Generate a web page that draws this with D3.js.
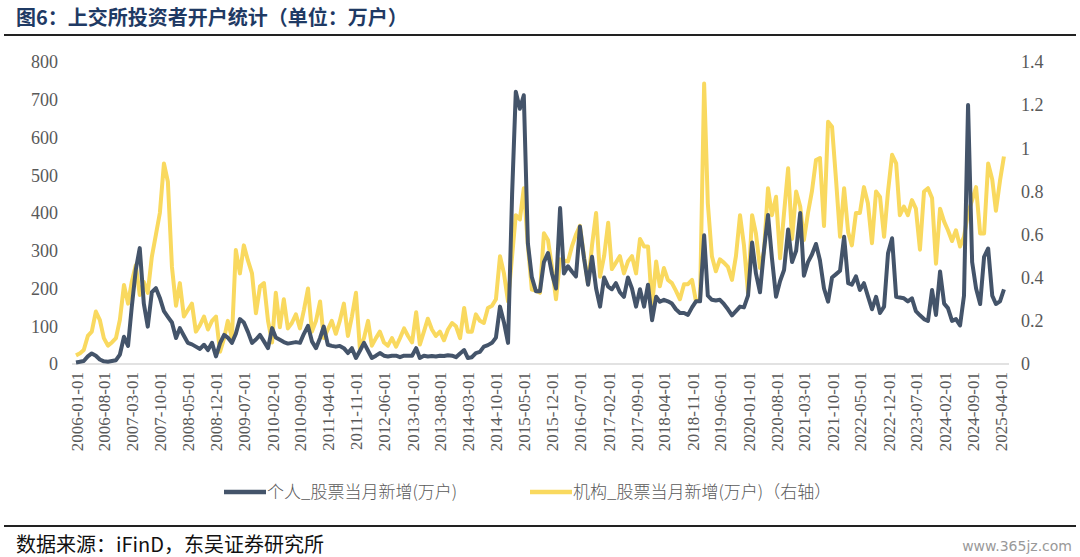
<!DOCTYPE html>
<html>
<head>
<meta charset="utf-8">
<script src="https://cdn.jsdelivr.net/npm/d3@7/dist/d3.min.js"></script>
<style>
  body { margin: 0; background: #fff; }
  svg text.num { font-family: "Liberation Serif", "Times New Roman", "DejaVu Serif", serif !important; }
</style>
</head>
<body>
<svg id="chart" width="1080" height="557"></svg>
<script>
// monthly, 2006-01 .. 2025-05
var startYear = 2006, startMonth = 0;

var personal = [
  4,6,8,20,28,22,12,7,6,8,10,25,
  72,48,150,250,307,160,99,190,201,175,140,125,
  110,69,95,75,56,52,46,40,51,37,56,20,
  55,77,70,56,80,119,110,85,56,65,77,60,
  42,95,70,64,58,54,56,58,56,80,101,60,
  42,69,99,51,48,46,48,42,29,42,16,35,
  56,35,16,22,29,22,20,22,22,18,22,22,
  22,42,16,22,20,21,20,22,21,23,22,18,
  28,37,16,18,29,32,46,50,56,70,152,110,
  56,450,721,676,712,320,230,193,193,270,294,240,
  200,413,240,259,245,232,364,280,210,284,200,152,
  229,205,198,214,190,178,229,200,152,198,152,210,
  116,178,165,170,166,160,145,135,135,130,150,166,
  166,341,181,170,168,170,159,145,129,140,152,150,
  181,322,240,190,300,395,280,178,220,249,356,270,
  300,400,234,270,290,318,275,200,165,229,238,247,
  337,214,210,232,196,214,180,145,178,135,152,293,
  333,178,176,174,166,174,140,129,119,114,196,130,
  245,160,148,114,119,102,181,686,270,200,159,284,
  306,181,159,166,198
];

var institution = [
  0.04,0.05,0.065,0.13,0.15,0.243,0.205,0.12,0.085,0.1,0.12,0.205,
  0.366,0.28,0.38,0.458,0.32,0.38,0.33,0.497,0.6,0.7,0.93,0.845,
  0.45,0.27,0.375,0.22,0.25,0.28,0.15,0.18,0.22,0.16,0.2,0.22,
  0.057,0.12,0.2,0.12,0.528,0.42,0.55,0.48,0.42,0.235,0.36,0.375,
  0.2,0.1,0.33,0.17,0.3,0.165,0.19,0.23,0.165,0.25,0.35,0.15,
  0.2,0.29,0.12,0.16,0.2,0.14,0.2,0.28,0.13,0.22,0.33,0.07,
  0.12,0.2,0.085,0.12,0.15,0.1,0.085,0.12,0.08,0.12,0.165,0.13,
  0.1,0.24,0.09,0.15,0.21,0.16,0.13,0.15,0.11,0.16,0.19,0.175,
  0.12,0.26,0.15,0.15,0.23,0.2,0.19,0.26,0.27,0.3,0.5,0.42,
  0.29,0.5,0.69,0.67,0.815,0.55,0.345,0.34,0.33,0.606,0.575,0.45,
  0.3,0.485,0.48,0.475,0.545,0.6,0.64,0.5,0.37,0.55,0.7,0.405,
  0.5,0.655,0.44,0.47,0.5,0.42,0.475,0.5,0.42,0.58,0.545,0.545,
  0.27,0.475,0.36,0.445,0.39,0.375,0.34,0.3,0.37,0.37,0.39,0.29,
  0.3,1.3,0.745,0.5,0.43,0.485,0.47,0.45,0.39,0.5,0.69,0.55,
  0.33,0.69,0.605,0.445,0.52,0.815,0.69,0.775,0.49,0.7,0.907,0.58,
  0.8,0.73,0.575,0.7,0.8,0.946,0.955,0.64,1.123,1.1,0.85,0.59,
  0.815,0.61,0.55,0.7,0.7,0.82,0.745,0.56,0.8,0.775,0.59,0.8,
  0.97,0.93,0.69,0.73,0.69,0.76,0.72,0.53,0.8,0.815,0.77,0.465,
  0.72,0.66,0.62,0.57,0.62,0.545,0.59,0.7,0.76,0.82,0.605,0.605,
  0.93,0.855,0.71,0.85,0.962
];

var leftTicks = [0,100,200,300,400,500,600,700,800];
var rightTicks = [0,0.2,0.4,0.6,0.8,1,1.2,1.4];
var tickEvery = 7; // months between x labels
var seriesNames = ["个人_股票当月新增(万户)", "机构_股票当月新增(万户)（右轴）"];
var colors = ["#44546a", "#f9d95f"];

var dates = personal.map(function(d, i) { return new Date(startYear, startMonth + i, 1); });

var svg = d3.select("#chart"),
    pLeft = 76, pRight = 1005, pTop = 62, pBottom = 364;

var x = d3.scaleTime().domain([dates[0], new Date(2025, 3, 1)]).range([pLeft, 1000]);
var yL = d3.scaleLinear().domain([0, 800]).range([pBottom, pTop]);
var yR = d3.scaleLinear().domain([0, 1.4]).range([pBottom, pTop]);

// title
svg.append("text").attr("x", 16).attr("y", 25)
    .attr("fill", "#1f3a64").attr("font-size", 20).attr("font-weight", "bold")
    .style("font-family", "'Noto Sans CJK SC', sans-serif")
    .text("图6：上交所投资者开户统计（单位：万户）");
svg.append("line").attr("x1", 4).attr("x2", 1076).attr("y1", 35).attr("y2", 35)
    .attr("stroke", "#222").attr("stroke-width", 2);

// axes
var axL = svg.append("g").attr("transform", "translate(" + (pLeft - 12) + ",0)")
    .call(d3.axisLeft(yL).tickValues(leftTicks).tickSize(0).tickPadding(6));
var axR = svg.append("g").attr("transform", "translate(" + (pRight + 12) + ",0)")
    .call(d3.axisRight(yR).tickValues(rightTicks).tickSize(0).tickPadding(4)
        .tickFormat(function(d) { return d3.format("~g")(d); }));
[axL, axR].forEach(function(a) {
    a.attr("font-family", null);
    a.select(".domain").remove();
    a.selectAll("text").attr("class", "num").attr("fill", "#595959").attr("font-size", 18);
});

svg.append("line").attr("x1", pLeft - 4).attr("x2", pRight + 4)
    .attr("y1", pBottom).attr("y2", pBottom).attr("stroke", "#d9d9d9").attr("stroke-width", 1.5);

var xTicks = dates.filter(function(d, i) { return i % tickEvery === 0; });
var axX = svg.append("g").attr("transform", "translate(0," + pBottom + ")")
    .call(d3.axisBottom(x).tickValues(xTicks).tickSize(0).tickFormat(d3.timeFormat("%Y-%m-%d")));
axX.attr("font-family", null);
axX.select(".domain").remove();
axX.selectAll("text").attr("class", "num").attr("fill", "#595959").attr("font-size", 17)
    .attr("text-anchor", "end").attr("y", 0).attr("dy", 0)
    .attr("transform", "translate(6,8) rotate(-90)");

// lines
var lineL = d3.line().x(function(d, i) { return x(dates[i]); }).y(function(d) { return yL(d); });
var lineR = d3.line().x(function(d, i) { return x(dates[i]); }).y(function(d) { return yR(d); });

svg.append("path").datum(institution).attr("d", lineR).attr("fill", "none")
    .attr("stroke", colors[1]).attr("stroke-width", 4).attr("stroke-linejoin", "round");
svg.append("path").datum(personal).attr("d", lineL).attr("fill", "none")
    .attr("stroke", colors[0]).attr("stroke-width", 4).attr("stroke-linejoin", "round");

// legend
var legend = [{x: 224, name: seriesNames[0], c: colors[0]}, {x: 530, name: seriesNames[1], c: colors[1]}];
legend.forEach(function(l) {
    svg.append("line").attr("x1", l.x).attr("x2", l.x + 42).attr("y1", 492).attr("y2", 492)
        .attr("stroke", l.c).attr("stroke-width", 4.5);
    svg.append("text").attr("x", l.x + 43).attr("y", 498).attr("font-size", 17).attr("fill", "#595959")
        .style("font-family", "'Noto Sans CJK SC', sans-serif").style("font-weight", 300)
        .text(l.name);
});

// footer
svg.append("line").attr("x1", 4).attr("x2", 1076).attr("y1", 526).attr("y2", 526)
    .attr("stroke", "#222").attr("stroke-width", 2);
svg.append("text").attr("x", 16).attr("y", 552).attr("font-size", 20).attr("fill", "#111")
    .style("font-family", "'Noto Sans CJK SC', sans-serif")
    .text("数据来源：iFinD，东吴证券研究所");
svg.append("text").attr("x", 1072).attr("y", 551).attr("text-anchor", "end")
    .attr("font-size", 14).attr("fill", "#999")
    .style("font-family", "'DejaVu Sans', sans-serif")
    .text("www.365jz.com");
</script>
</body>
</html>
